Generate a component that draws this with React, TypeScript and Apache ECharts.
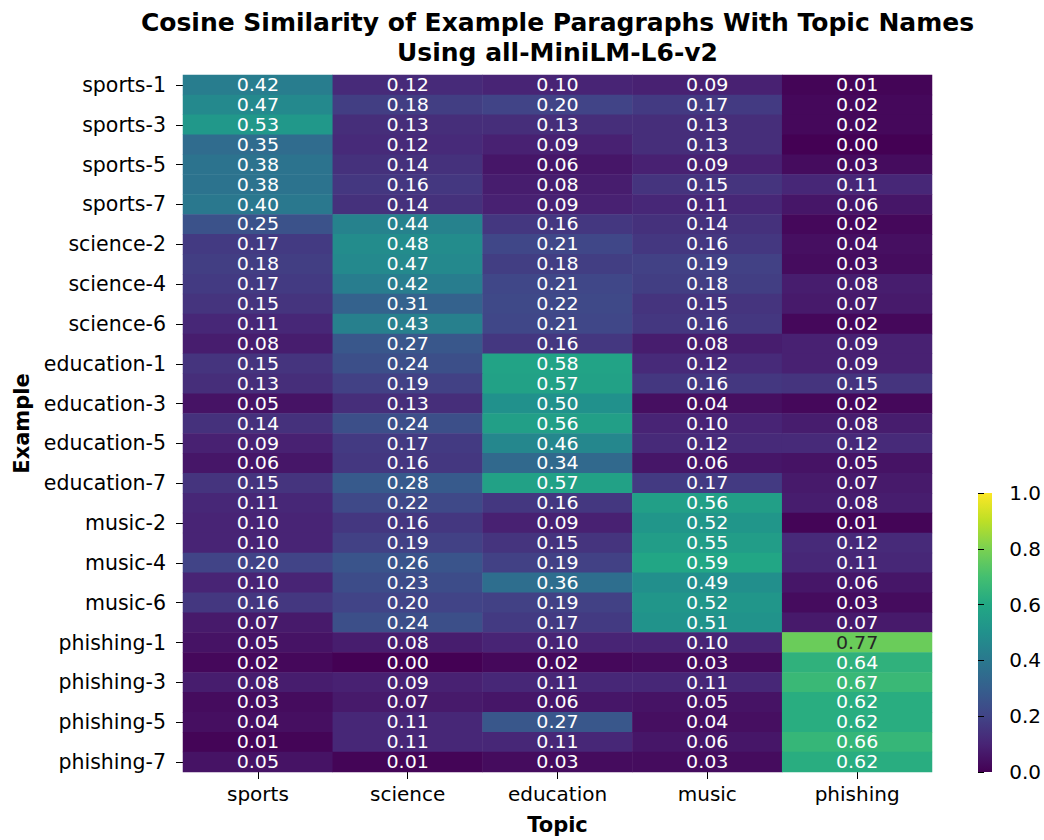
import React, { useEffect, useRef } from "react";
import * as echarts from "echarts";

// Topic names (columns) and example paragraph names (rows)
const topics = ["sports", "science", "education", "music", "phishing"];
const groups = ["sports", "science", "education", "music", "phishing"];
const examplesPerGroup = 7;

// Cosine similarity scores per example, one row per paragraph, columns follow `topics`
const sportsRows = [
  [0.42, 0.12, 0.10, 0.09, 0.01],
  [0.47, 0.18, 0.20, 0.17, 0.02],
  [0.53, 0.13, 0.13, 0.13, 0.02],
  [0.35, 0.12, 0.09, 0.13, 0.00],
  [0.38, 0.14, 0.06, 0.09, 0.03],
  [0.38, 0.16, 0.08, 0.15, 0.11],
  [0.40, 0.14, 0.09, 0.11, 0.06],
];
const scienceRows = [
  [0.25, 0.44, 0.16, 0.14, 0.02],
  [0.17, 0.48, 0.21, 0.16, 0.04],
  [0.18, 0.47, 0.18, 0.19, 0.03],
  [0.17, 0.42, 0.21, 0.18, 0.08],
  [0.15, 0.31, 0.22, 0.15, 0.07],
  [0.11, 0.43, 0.21, 0.16, 0.02],
  [0.08, 0.27, 0.16, 0.08, 0.09],
];
const educationRows = [
  [0.15, 0.24, 0.58, 0.12, 0.09],
  [0.13, 0.19, 0.57, 0.16, 0.15],
  [0.05, 0.13, 0.50, 0.04, 0.02],
  [0.14, 0.24, 0.56, 0.10, 0.08],
  [0.09, 0.17, 0.46, 0.12, 0.12],
  [0.06, 0.16, 0.34, 0.06, 0.05],
  [0.15, 0.28, 0.57, 0.17, 0.07],
];
const musicRows = [
  [0.11, 0.22, 0.16, 0.56, 0.08],
  [0.10, 0.16, 0.09, 0.52, 0.01],
  [0.10, 0.19, 0.15, 0.55, 0.12],
  [0.20, 0.26, 0.19, 0.59, 0.11],
  [0.10, 0.23, 0.36, 0.49, 0.06],
  [0.16, 0.20, 0.19, 0.52, 0.03],
  [0.07, 0.24, 0.17, 0.51, 0.07],
];
const phishingRows = [
  [0.05, 0.08, 0.10, 0.10, 0.77],
  [0.02, 0.00, 0.02, 0.03, 0.64],
  [0.08, 0.09, 0.11, 0.11, 0.67],
  [0.03, 0.07, 0.06, 0.05, 0.62],
  [0.04, 0.11, 0.27, 0.04, 0.62],
  [0.01, 0.11, 0.11, 0.06, 0.66],
  [0.05, 0.01, 0.03, 0.03, 0.62],
];

const colorbarTicks = [0, 0.2, 0.4, 0.6, 0.8, 1.0];

// viridis colour map
const viridis = [
  "#440154", "#482475", "#414487", "#355f8d", "#2a788e",
  "#21918c", "#22a884", "#44bf70", "#7ad151", "#bddf26", "#fde725",
];

const FONT = "DejaVu Sans";

export default function App() {
  const ref = useRef<HTMLDivElement>(null);

  useEffect(() => {
    document.body.style.margin = "0";
    if (!ref.current) return;
    const chart = echarts.init(ref.current, null, { renderer: "svg" });

    const examples: string[] = [];
    groups.forEach((g) => {
      for (let i = 1; i <= examplesPerGroup; i++) examples.push(`${g}-${i}`);
    });
    const allRows = [...sportsRows, ...scienceRows, ...educationRows, ...musicRows, ...phishingRows];

    const data: number[][] = [];
    allRows.forEach((row, y) => {
      row.forEach((v, x) => data.push([x, y, v]));
    });

    const gLeft = 183, gTop = 75, gRight = 932, gBottom = 772;
    const cbLeft = 978, cbTop = 493, cbW = 14, cbBottom = 772;
    const cx = (gLeft + gRight) / 2;

    chart.setOption({
      animation: false,
      textStyle: { fontFamily: FONT },
      grid: [
        { left: gLeft, top: gTop, width: gRight - gLeft, height: gBottom - gTop },
        { left: cbLeft, top: cbTop, width: cbW, height: cbBottom - cbTop },
      ],
      xAxis: [
        {
          type: "category",
          data: topics,
          gridIndex: 0,
          position: "bottom",
          axisLine: { show: false },
          axisTick: { show: true, alignWithLabel: true, length: 7, lineStyle: { color: "#000" } },
          axisLabel: { color: "#000", fontSize: 20, margin: 12, fontFamily: FONT },
          splitLine: { show: false },
        },
        { type: "value", gridIndex: 1, show: false, min: 0, max: 1 },
      ],
      yAxis: [
        {
          type: "category",
          data: examples,
          gridIndex: 0,
          inverse: true,
          axisLine: { show: false },
          axisTick: { show: true, alignWithLabel: true, interval: 1, length: 7, lineStyle: { color: "#000" } },
          axisLabel: { color: "#000", fontSize: 20.5, margin: 17, interval: 1, fontFamily: FONT },
          splitLine: { show: false },
        },
        {
          type: "value",
          gridIndex: 1,
          min: 0,
          max: 1,
          interval: 0.2,
          position: "right",
          axisLine: { show: false },
          axisTick: { show: true, length: 6, lineStyle: { color: "#000" } },
          axisLabel: {
            color: "#000",
            fontSize: 20,
            margin: 18,
            fontFamily: FONT,
            formatter: (v: number) => v.toFixed(1),
            customValues: colorbarTicks,
          },
          splitLine: { show: false },
        },
      ],
      visualMap: {
        show: false,
        min: 0,
        max: 1,
        seriesIndex: 0,
        dimension: 2,
        inRange: { color: viridis },
      },
      series: [
        {
          type: "heatmap",
          xAxisIndex: 0,
          yAxisIndex: 0,
          data,
          label: { show: false },
          itemStyle: { borderWidth: 0 },
          emphasis: { disabled: true },
        },
        {
          // cell annotations: value text centred in every cell
          type: "custom",
          xAxisIndex: 0,
          yAxisIndex: 0,
          data,
          silent: true,
          z: 5,
          renderItem: (_params: any, api: any) => {
            const p = api.coord([api.value(0), api.value(1)]);
            const v = api.value(2) as number;
            return {
              type: "text",
              x: p[0],
              y: p[1],
              scaleX: 1.12,
              style: {
                text: v.toFixed(2),
                fill: v > 0.7 ? "#262626" : "#ffffff",
                font: `17px "${FONT}"`,
                textAlign: "center",
                textVerticalAlign: "middle",
              },
            };
          },
        },
      ],
      graphic: [
        {
          type: "rect",
          silent: true,
          shape: { x: cbLeft, y: cbTop, width: cbW, height: cbBottom - cbTop },
          style: {
            fill: new echarts.graphic.LinearGradient(
              0, 1, 0, 0,
              viridis.map((c, i) => ({ offset: i / (viridis.length - 1), color: c }))
            ),
          },
        },
        {
          type: "text",
          x: cx,
          y: 22,
          style: {
            text: "Cosine Similarity of Example Paragraphs With Topic Names",
            font: `bold 25px "${FONT}"`,
            fill: "#000",
            textAlign: "center",
            textVerticalAlign: "middle",
          },
        },
        {
          type: "text",
          x: cx,
          y: 52,
          style: {
            text: "Using all-MiniLM-L6-v2",
            font: `bold 25px "${FONT}"`,
            fill: "#000",
            textAlign: "center",
            textVerticalAlign: "middle",
          },
        },
        {
          type: "text",
          x: cx,
          y: 825,
          style: {
            text: "Topic",
            font: `bold 21px "${FONT}"`,
            fill: "#000",
            textAlign: "center",
            textVerticalAlign: "middle",
          },
        },
        {
          type: "text",
          x: 22,
          y: (gTop + gBottom) / 2,
          rotation: Math.PI / 2,
          style: {
            text: "Example",
            font: `bold 21px "${FONT}"`,
            fill: "#000",
            textAlign: "center",
            textVerticalAlign: "middle",
          },
        },
      ],
    });

    return () => chart.dispose();
  }, []);

  return <div ref={ref} style={{ width: 1044, height: 840 }} />;
}
